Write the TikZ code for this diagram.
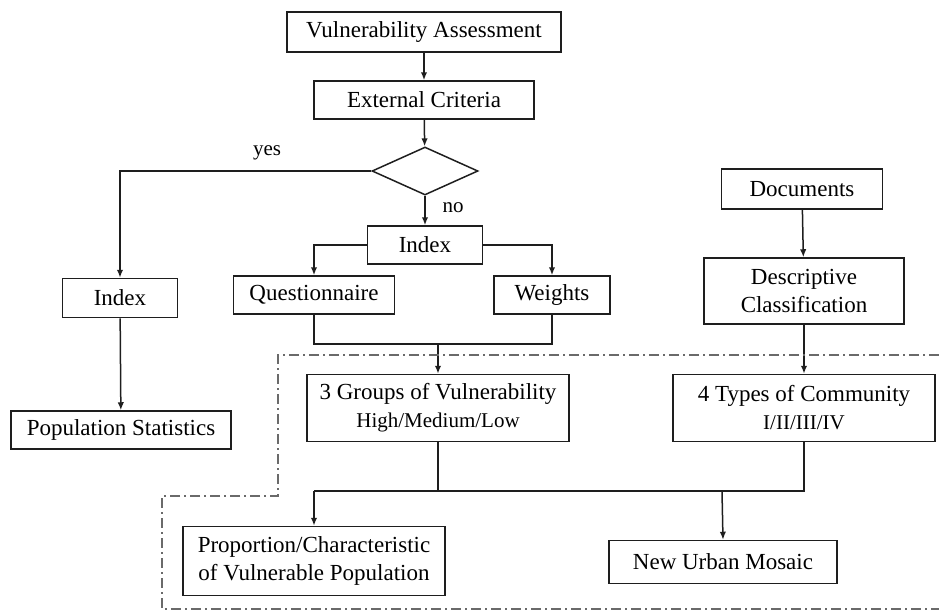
\documentclass[tikz,border=0pt]{standalone}
\usepackage{fontspec}
\setmainfont{Liberation Serif}
\usepackage{tikz}
\usetikzlibrary{arrows.meta,shapes.geometric}
\definecolor{ChartInk}{HTML}{1E1E1E}
\definecolor{ChartFrame}{HTML}{6A6A6A}

\begin{document}
\begin{tikzpicture}[x=0.5pt,y=-0.5pt,>=Latex,
    box/.style={draw=ChartInk,line width=0.75pt,inner sep=0pt,align=center,
                font=\fontsize{11.5}{14}\selectfont},
    flow/.style={ChartInk,line width=0.75pt,-{Latex[length=4pt,width=3.2pt]}},
    link/.style={ChartInk,line width=0.75pt},
    frame/.style={ChartFrame,line width=0.6pt,
                  dash pattern=on 5pt off 2pt on 1pt off 2pt},
    sub/.style={font=\fontsize{10.5}{12}\selectfont}]
  \useasboundingbox (0,0) rectangle (939,612);
  \node[box,minimum width=137pt,minimum height=20pt] (assess) at (424,32)
    {Vulnerability Assessment};
  \node[box,minimum width=110pt,minimum height=19pt] (criteria) at (424,100)
    {External Criteria};
  \node[draw=ChartInk,line width=0.75pt,diamond,inner sep=0pt,
        minimum width=53pt,minimum height=24pt] (check) at (425,171) {};
  \node[box,minimum width=57.5pt,minimum height=19pt] (index) at (425,245)
    {Index};
  \node[box,minimum width=57.5pt,minimum height=19.5pt] (yesindex) at (120,298)
    {Index};
  \node[box,minimum width=80.5pt,minimum height=19pt] (quest) at (314,295)
    {Questionnaire};
  \node[box,minimum width=58pt,minimum height=19pt] (weights) at (552,295)
    {Weights};
  \node[box,minimum width=80.5pt,minimum height=20pt] (docs) at (802,189)
    {Documents};
  \node[box,minimum width=100pt,minimum height=33pt] (descr) at (804,291)
    {Descriptive\\Classification};
  \node[box,minimum width=131pt,minimum height=33.5pt] (groups) at (438,408)
    {3 Groups of Vulnerability\\{\fontsize{10.5}{12}\selectfont High/Medium/Low}};
  \node[box,minimum width=131pt,minimum height=33.5pt] (types) at (804,408)
    {4 Types of Community\\{\fontsize{10.5}{12}\selectfont I/II/III/IV}};
  \node[box,minimum width=110pt,minimum height=19pt] (popstat) at (121,430)
    {Population Statistics};
  \node[box,minimum width=131pt,minimum height=34.5pt] (propor) at (314,561)
    {Proportion/Characteristic\\of Vulnerable Population};
  \node[box,minimum width=114pt,minimum height=21.5pt] (mosaic) at (723,562)
    {New Urban Mosaic};
  \node[sub] (yeslbl) at (267,153) {yes};
  \node[sub] (nolbl) at (453,208) {no};
  \coordinate (merge) at (438,344);
  \coordinate (join) at (722,491);

  \draw[flow] (assess) -- (criteria);
  \draw[flow] (criteria) -- (check);
  \draw[flow] (check.west) -| (yesindex.north);
  \draw[flow] (check.south) -- (index.north);
  \draw[flow] (index.west) -| (quest.north);
  \draw[flow] (index.east) -| (weights.north);
  \draw[flow] (yesindex) -- (popstat);
  \draw[flow] (docs) -- (descr);
  \draw[flow] (descr) -- (types);
  \draw[link] (quest.south) |- (merge) -| (weights.south);
  \draw[flow] (merge) -- (groups.north);
  \draw[link] (types.south) |- (propor.north |- join);
  \draw[link] (groups.south) -- (groups.south |- join);
  \draw[flow] (propor.north |- join) -- (propor.north);
  \draw[flow] (join) -- (mosaic.north);

  % boundary of the second stage
  \draw[frame] (939,355) -- (278,355) -- (278,496) -- (162,496)
    -- (162,609) -- (939,609);
\end{tikzpicture}
\end{document}
